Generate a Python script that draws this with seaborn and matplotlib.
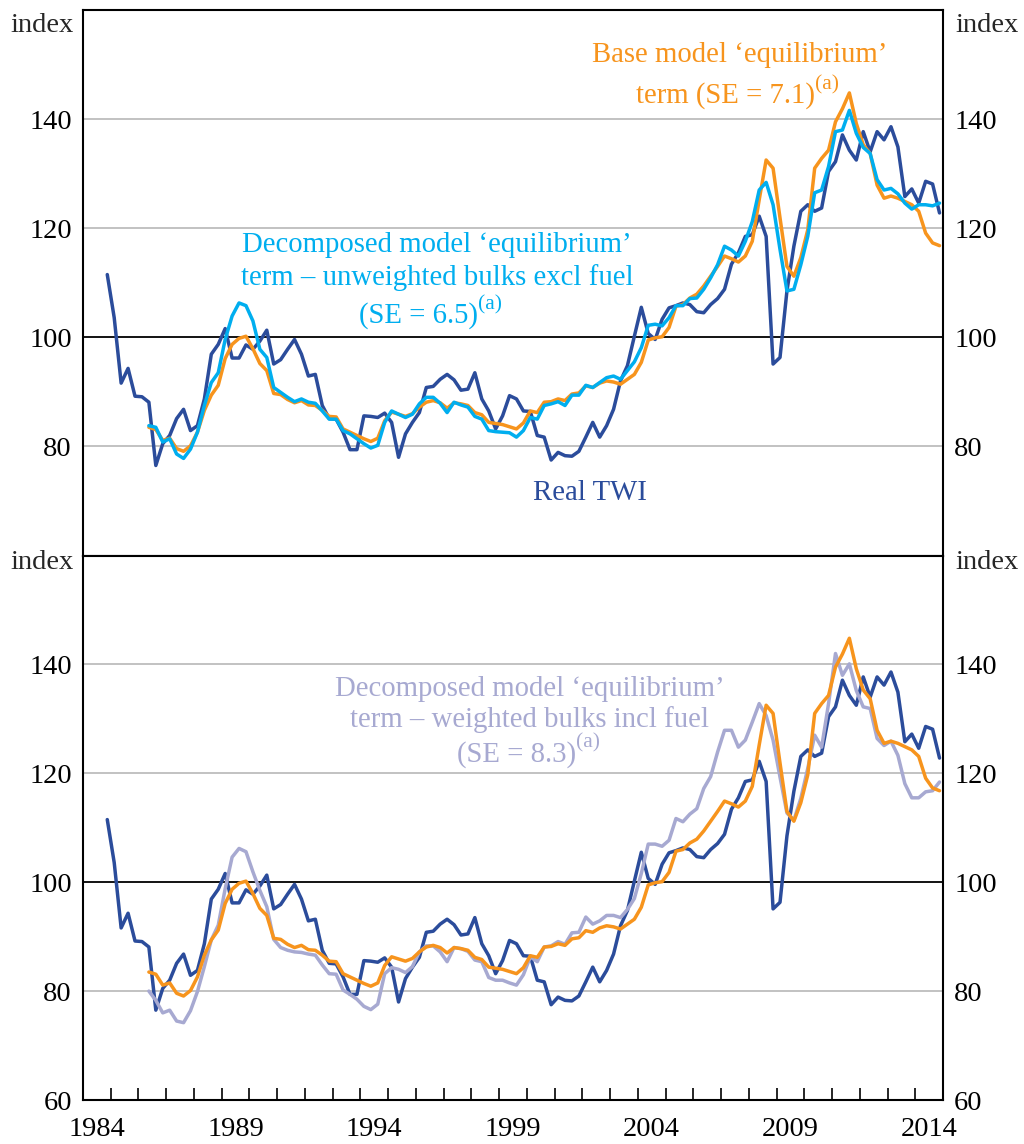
import numpy as np
import pandas as pd
import seaborn as sns
import matplotlib.pyplot as plt

sns.set_theme(style='white')
plt.rcParams['font.family'] = ['Liberation Serif', 'DejaVu Serif']

# quarterly data, 1984 Q4 to 2014 Q4
quarters = pd.period_range('1984Q4', '2014Q4', freq='Q')
t = quarters.year + (quarters.quarter - 0.5) / 4

real_twi = [
    111.5, 103.6, 91.6, 94.3, 89.2, 89.1, 88.1, 76.5, 80.5, 82.0,
    85.1, 86.8, 82.9, 83.8, 88.7, 96.9, 98.7, 101.6, 96.2, 96.2,
    98.6, 97.8, 99.3, 101.3, 95.1, 95.9, 97.8, 99.6, 96.9, 92.9,
    93.2, 87.5, 85.1, 85.0, 82.6, 79.4, 79.4, 85.6, 85.5, 85.3,
    86.1, 84.4, 78.0, 82.3, 84.4, 86.2, 90.8, 91.0, 92.3, 93.2,
    92.2, 90.3, 90.5, 93.5, 88.7, 86.5, 83.2, 85.6, 89.3, 88.7,
    86.5, 86.4, 82.0, 81.7, 77.5, 78.9, 78.3, 78.2, 79.1, 81.7,
    84.4, 81.7, 83.8, 86.8, 92.0, 94.8, 100.2, 105.5, 100.7, 99.6,
    103.3, 105.4, 105.8, 106.3, 106.0, 104.7, 104.5, 106.0, 107.1, 108.8,
    113.4, 115.5, 118.5, 118.8, 122.2, 118.5, 95.1, 96.3, 108.5, 116.7,
    123.1, 124.3, 123.1, 123.7, 130.4, 132.2, 137.1, 134.3, 132.5, 137.7,
    134.0, 137.7, 136.2, 138.6, 134.9, 125.8, 127.2, 124.6, 128.6, 128.1,
    122.8,
]

# model series start in 1986 Q2
base_model = [
    83.5, 83.1, 81.1, 81.5, 79.6, 79.1, 80.1, 82.6, 86.6, 89.4,
    91.2, 96.1, 98.7, 99.8, 100.2, 97.9, 95.2, 93.9, 89.7, 89.5,
    88.6, 88.0, 88.4, 87.6, 87.5, 86.6, 85.5, 85.4, 83.2, 82.6,
    82.0, 81.4, 80.9, 81.5, 84.7, 86.3, 85.9, 85.5, 86.0, 87.2,
    88.1, 88.4, 88.0, 87.0, 88.0, 87.8, 87.5, 86.2, 85.8, 84.4,
    84.2, 84.0, 83.6, 83.2, 84.3, 86.5, 86.2, 88.1, 88.2, 88.7,
    88.4, 89.6, 89.8, 91.1, 90.8, 91.6, 92.0, 91.8, 91.4, 92.3,
    93.2, 95.4, 99.5, 99.9, 100.1, 101.8, 105.7, 106.0, 107.2, 107.9,
    109.4, 111.2, 113.0, 114.9, 114.4, 113.8, 114.9, 117.6, 125.2, 132.5,
    131.0, 121.9, 113.0, 111.2, 114.6, 119.7, 131.0, 132.8, 134.3, 139.5,
    141.9, 144.8, 139.2, 135.3, 133.7, 127.9, 125.5, 125.9, 125.5, 124.9,
    124.3, 123.1, 119.1, 117.3, 116.8,
]

unweighted_excl_fuel = [
    83.8, 83.5, 80.8, 81.4, 78.6, 77.8, 79.5, 82.6, 87.5, 91.7,
    93.5, 99.6, 103.9, 106.3, 105.8, 103.0, 97.8, 96.3, 90.8, 89.9,
    89.0, 88.2, 88.7, 88.1, 87.9, 86.5, 85.0, 85.0, 82.9, 82.3,
    81.4, 80.5, 79.7, 80.2, 84.4, 86.5, 85.9, 85.3, 85.9, 87.8,
    89.0, 89.0, 87.9, 86.2, 88.1, 87.6, 87.2, 85.5, 85.0, 82.9,
    82.7, 82.6, 82.5, 81.7, 82.9, 85.3, 85.0, 87.5, 87.8, 88.2,
    87.5, 89.4, 89.4, 91.2, 90.8, 91.7, 92.6, 92.9, 92.3, 93.9,
    95.5, 98.1, 102.2, 102.4, 102.1, 103.6, 105.8, 105.8, 107.1, 107.2,
    108.8, 110.9, 113.3, 116.7, 116.0, 114.9, 117.6, 121.2, 127.0, 128.4,
    124.3, 116.1, 108.5, 108.8, 113.3, 118.5, 126.5, 127.0, 131.3, 137.7,
    138.0, 141.6, 137.4, 134.8, 133.7, 128.9, 127.0, 127.3, 126.3, 124.6,
    123.5, 124.3, 124.3, 124.1, 124.6,
]

weighted_incl_fuel = [
    80.0, 78.3, 76.0, 76.5, 74.5, 74.2, 76.4, 79.9, 84.5, 89.4,
    92.1, 98.8, 104.6, 106.2, 105.6, 101.9, 98.5, 95.5, 89.5, 88.0,
    87.5, 87.2, 87.1, 86.8, 86.6, 84.8, 83.2, 83.1, 80.2, 79.4,
    78.5, 77.2, 76.6, 77.6, 83.2, 84.3, 84.0, 83.4, 84.5, 87.2,
    88.3, 88.3, 87.2, 85.4, 88.0, 87.8, 87.3, 85.7, 85.4, 82.5,
    82.0, 82.0, 81.5, 81.1, 83.0, 86.3, 85.4, 88.1, 88.3, 89.1,
    88.6, 90.7, 90.8, 93.6, 92.3, 92.9, 93.9, 93.9, 93.5, 95.0,
    97.0, 101.6, 107.0, 107.0, 106.6, 107.7, 111.7, 111.1, 112.5, 113.5,
    117.2, 119.4, 123.9, 127.9, 127.9, 124.8, 126.1, 129.4, 132.8, 130.6,
    126.1, 119.3, 112.7, 111.4, 115.4, 120.9, 127.0, 124.8, 132.8, 142.0,
    138.0, 140.1, 135.2, 132.2, 131.9, 126.4, 125.1, 125.9, 123.3, 118.1,
    115.5, 115.5, 116.6, 116.8, 118.4,
]

t_model = t[len(real_twi) - len(base_model):]

year_ticks = list(range(1985, 2015))
year_labels = [1984, 1989, 1994, 1999, 2004, 2009, 2014]
top_yticks = [80, 100, 120, 140]
bottom_yticks = [60, 80, 100, 120, 140]

c_twi = '#2B4C9B'
c_base = '#F7941D'
c_unw = '#00AEEF'
c_wtd = '#A7A9D1'
c_grid = '#BDBDBD'
fs = 20.5
fs_note = 20.7
lw = 2.5

fig = plt.figure(figsize=(10.24, 11.44), dpi=100)
ax1 = fig.add_axes([0.08105, 0.51442, 0.83984, 0.47684])
ax2 = fig.add_axes([0.08105, 0.03846, 0.83984, 0.47596])

for ax, yt, idx_y in [(ax1, top_yticks, 0.971), (ax2, bottom_yticks, 0.988)]:
    ax.set_xlim(1984, 2015)
    ax.set_ylim(60, 160)
    ax.set_yticks(yt)
    ax.set_yticklabels([str(v) for v in yt])
    for v in yt:
        if v == 60:
            continue
        ax.axhline(v, color='black' if v == 100 else c_grid,
                   lw=1.3, zorder=1)
    ax.tick_params(axis='y', length=0, pad=8, labelsize=fs,
                   labelleft=True, labelright=True, colors='black')
    for s in ax.spines.values():
        s.set_color('black')
        s.set_linewidth(1.5)
    ax.text(-0.0105, idx_y, 'index', transform=ax.transAxes, ha='right',
            va='center', fontsize=fs)
    ax.text(1.014, idx_y, 'index', transform=ax.transAxes, ha='left',
            va='center', fontsize=fs)

# top panel
sns.lineplot(x=t, y=real_twi, ax=ax1, color=c_twi, lw=lw, estimator=None, zorder=3)
sns.lineplot(x=t_model, y=base_model, ax=ax1, color=c_base, lw=lw, estimator=None, zorder=4)
sns.lineplot(x=t_model, y=unweighted_excl_fuel, ax=ax1, color=c_unw, lw=lw,
             estimator=None, zorder=5)
ax1.set_xticks([])

# bottom panel
sns.lineplot(x=t, y=real_twi, ax=ax2, color=c_twi, lw=lw, estimator=None, zorder=3)
sns.lineplot(x=t_model, y=weighted_incl_fuel, ax=ax2, color=c_wtd, lw=lw,
             estimator=None, zorder=4)
sns.lineplot(x=t_model, y=base_model, ax=ax2, color=c_base, lw=lw, estimator=None, zorder=5)
ax2.set_xticks(year_ticks)
ax2.set_xticklabels([])
ax2.set_xticks([y + 0.5 for y in year_labels], minor=True)
ax2.set_xticklabels([str(y) for y in year_labels], minor=True)
ax2.tick_params(axis='x', which='major', direction='in', length=8.5,
                width=1.2, color='black', bottom=True)
ax2.tick_params(axis='x', which='minor', length=0, pad=12, labelsize=fs,
                bottom=True, colors='black')

for ax in (ax1, ax2):
    ax.set_xlabel('')
    ax.set_ylabel('')


def se_line(ax, x, y, label, color):
    # main text starts at x, "(a)" superscript follows it
    main = ax.text(x, y, label, color=color, fontsize=fs_note,
                   ha='left', va='center')
    ax.annotate('(a)', xy=(1.0, 0.55), xycoords=main, color=color,
                fontsize=fs_note * 0.75, ha='left', va='bottom')


# annotations
ax1.text(2007.68, 151.8, 'Base model ‘equilibrium’', color=c_base,
         fontsize=fs_note, ha='center', va='center')
se_line(ax1, 2003.93, 144.3, 'term (SE = 7.1)', c_base)
ax1.text(1996.76, 117.0, 'Decomposed model ‘equilibrium’', color=c_unw,
         fontsize=fs_note, ha='center', va='center')
ax1.text(1996.76, 111.0, 'term – unweighted bulks excl fuel', color=c_unw,
         fontsize=fs_note, ha='center', va='center')
se_line(ax1, 1993.95, 104.0, '(SE = 6.5)', c_unw)
ax1.text(2002.28, 71.5, 'Real TWI', color=c_twi, fontsize=fs_note,
         ha='center', va='center')
ax2.text(2000.11, 135.4, 'Decomposed model ‘equilibrium’', color=c_wtd,
         fontsize=fs_note, ha='center', va='center')
ax2.text(2000.11, 129.9, 'term – weighted bulks incl fuel', color=c_wtd,
         fontsize=fs_note, ha='center', va='center')
se_line(ax2, 1997.48, 123.5, '(SE = 8.3)', c_wtd)

fig.savefig('out.png', dpi=100)
